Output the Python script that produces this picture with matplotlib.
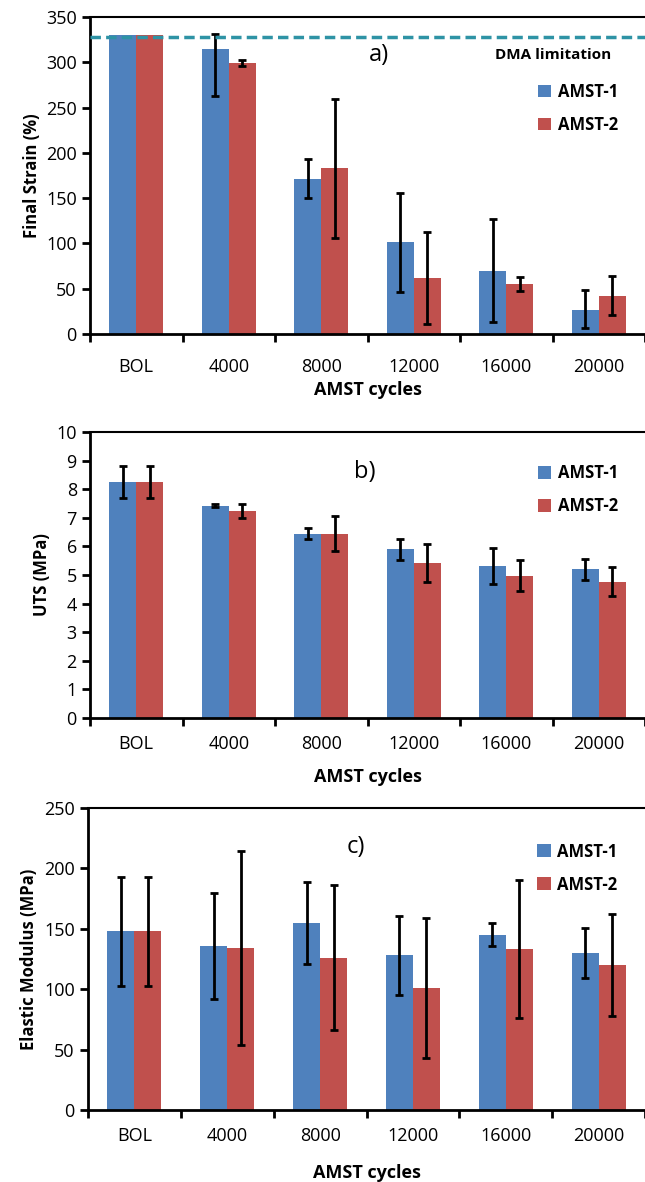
import matplotlib.pyplot as plt
import numpy as np

plt.rcParams['font.family'] = ['Open Sans', 'DejaVu Sans']

categories = ['BOL', '4000', '8000', '12000', '16000', '20000']

# a) final strain (%)  -- BOL has no error bar (beyond DMA range)
strain_1 = [330, 315, 171, 102, 70, 27]
strain_1_lo = [np.nan, 52, 21, 56, 57, 20]
strain_1_hi = [np.nan, 16, 22, 54, 57, 22]
strain_2 = [330, 299, 183, 62, 55, 42]
strain_2_lo = [np.nan, 3.5, 77, 51, 7.5, 21.5]
strain_2_hi = [np.nan, 3.5, 77, 51, 7.5, 21.5]
dma_limit = 328

# b) UTS (MPa)
uts_1 = [8.25, 7.42, 6.45, 5.9, 5.32, 5.2]
uts_1_err = [0.55, 0.05, 0.19, 0.37, 0.62, 0.37]
uts_2 = [8.25, 7.23, 6.45, 5.42, 4.98, 4.77]
uts_2_err = [0.55, 0.25, 0.62, 0.67, 0.55, 0.5]

# c) elastic modulus (MPa)
mod_1 = [148, 136, 155, 128, 145, 130]
mod_1_err = [45, 44, 34, 33, 9.5, 21]
mod_2 = [148, 134, 126, 101, 133, 120]
mod_2_err = [45, 80, 60, 58, 57, 42]

blue = '#4f81bd'
red = '#c0504d'
W, H = 645, 1182

fig = plt.figure(figsize=(W / 100, H / 100), dpi=100)

def make_axes(top_px, bottom_px, left_px=90):
  return fig.add_axes([left_px / W, 1 - bottom_px / H, (W - left_px) / W, (bottom_px - top_px) / H])

def draw(ax, v1, e1, v2, e2, ymax, ystep, ylabel, tag, tag_x, tag_y, leg_y, tpad, lpad):
  x = np.arange(len(categories))
  bw = 0.29
  ax.bar(x - bw / 2, v1, bw, color=blue, label='AMST-1', zorder=2)
  ax.bar(x + bw / 2, v2, bw, color=red, label='AMST-2', zorder=2)
  ax.errorbar(x - bw / 2, v1, yerr=e1, fmt='none', ecolor='black', elinewidth=2, capsize=3, capthick=2, zorder=3)
  ax.errorbar(x + bw / 2, v2, yerr=e2, fmt='none', ecolor='black', elinewidth=2, capsize=3, capthick=2, zorder=3)
  ax.set_xlim(-0.5, len(categories) - 0.5)
  ax.set_ylim(0, ymax)
  ax.set_yticks(np.arange(0, ymax + ystep / 2, ystep))
  ax.set_xticks(np.arange(-0.5, len(categories), 1.0))
  ax.set_xticklabels([])
  ax.set_xticks(x, minor=True)
  ax.set_xticklabels(categories, minor=True)
  ax.tick_params(axis='x', which='minor', length=0, pad=tpad, labelsize=13)
  ax.tick_params(axis='x', which='major', length=6, width=2, direction='out')
  ax.tick_params(axis='y', length=6, width=2, labelsize=13)
  for s in ['left', 'bottom']:
    ax.spines[s].set_linewidth(2)
  ax.spines['top'].set_linewidth(1.5)
  ax.spines['right'].set_visible(False)
  ax.set_ylabel(ylabel, fontsize=12, fontweight='bold')
  ax.set_xlabel('AMST cycles', fontsize=13, fontweight='bold', labelpad=lpad)
  ax.text(tag_x, tag_y, tag, transform=ax.transAxes, fontsize=17, ha='center', va='center')
  ax.legend(loc='upper left', bbox_to_anchor=(0.78, leg_y), frameon=False,
            prop={'weight': 'bold', 'size': 12}, handlelength=0.8, handleheight=0.8,
            handletextpad=0.4, labelspacing=0.9)

ax_a = make_axes(17, 334)
draw(ax_a, strain_1, [strain_1_lo, strain_1_hi], strain_2, [strain_2_lo, strain_2_hi],
     350, 50, 'Final Strain (%)', 'a)', 0.52, 0.88, 0.84, 17, 4)
ax_a.axhline(dma_limit, color='#2e93a5', lw=2.5, ls=(0, (3, 1.5)), zorder=4, clip_on=False)
ax_a.text(0.94, 0.88, 'DMA limitation', transform=ax_a.transAxes, fontsize=11,
          fontweight='bold', ha='right', va='center')

ax_b = make_axes(432, 718)
draw(ax_b, uts_1, uts_1_err, uts_2, uts_2_err, 10, 1, 'UTS (MPa)', 'b)', 0.495, 0.86, 0.94, 12, 11)

ax_c = make_axes(808, 1110, left_px=88)
draw(ax_c, mod_1, mod_1_err, mod_2, mod_2_err, 250, 50, 'Elastic Modulus (MPa)', 'c)', 0.48, 0.87, 0.935, 12, 14)

fig.savefig('out.png', dpi=100)
